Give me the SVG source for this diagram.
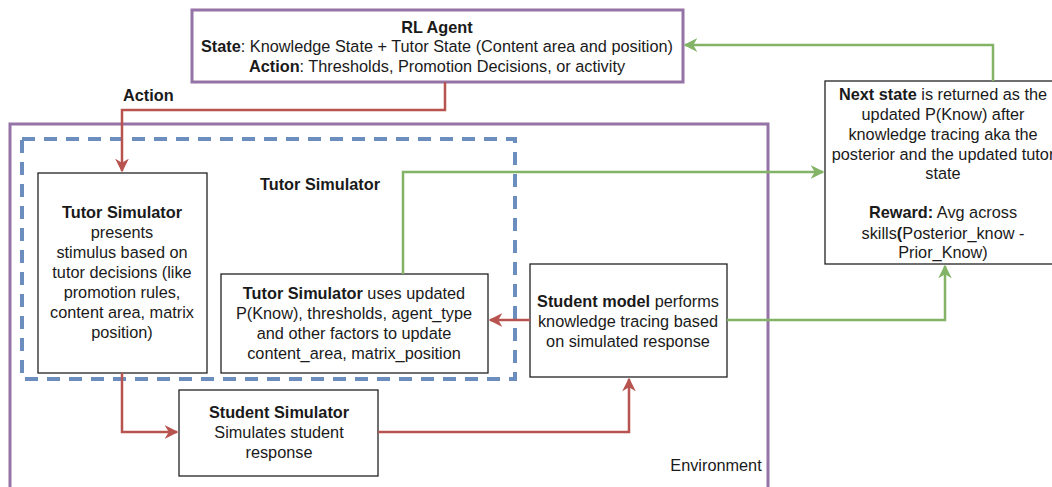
<svg xmlns="http://www.w3.org/2000/svg" width="1052" height="487" viewBox="0 0 1052 487">
<defs>
<style>
text{font-family:"Liberation Sans",Arial,sans-serif;font-size:16.3px;fill:#1a1a1a}
.c{text-anchor:middle}
.b{font-weight:bold}
.node{fill:#fff;stroke:#222;stroke-width:1.3}
.red{fill:none;stroke:#b85450;stroke-width:2.5}
.green{fill:none;stroke:#82b366;stroke-width:2.5}
</style>
<marker id="ar" viewBox="0 0 10 10" refX="9" refY="5" markerWidth="5.5" markerHeight="5.5" orient="auto" markerUnits="strokeWidth"><path d="M0,0 L10,5 L0,10 L3,5 Z" fill="#b85450"/></marker>
<marker id="ag" viewBox="0 0 10 10" refX="9" refY="5" markerWidth="5.5" markerHeight="5.5" orient="auto" markerUnits="strokeWidth"><path d="M0,0 L10,5 L0,10 L3,5 Z" fill="#82b366"/></marker>
</defs>
<rect width="1052" height="487" fill="#fff"/>
<g id="environment">
<rect x="10" y="124" width="758" height="370" fill="none" stroke="#9673a6" stroke-width="3"/>
<text class="c" x="716" y="471">Environment</text>
</g>
<g id="tutor-simulator-group">
<rect x="22" y="139" width="493" height="240" fill="none" stroke="#6c8ebf" stroke-width="4" stroke-dasharray="13 9"/>
<text class="c b" x="320" y="190">Tutor Simulator</text>
</g>
<g id="rl-agent">
<rect x="192" y="10" width="491" height="72" fill="#fff" stroke="#9673a6" stroke-width="3"/>
<text class="c b" x="437" y="33">RL Agent</text>
<text class="c" x="437" y="52"><tspan class="b">State</tspan>: Knowledge State + Tutor State (Content area and position)</text>
<text class="c" x="437" y="72"><tspan class="b">Action</tspan>: Thresholds, Promotion Decisions, or activity</text>
</g>
<g id="tutor-presents">
<rect class="node" x="38" y="173" width="169" height="200"/>
<text class="c" x="122" y="218"><tspan class="b">Tutor Simulator</tspan></text>
<text class="c" x="122" y="238">presents</text>
<text class="c" x="122" y="258">stimulus based on</text>
<text class="c" x="122" y="278">tutor decisions (like</text>
<text class="c" x="122" y="298">promotion rules,</text>
<text class="c" x="122" y="318">content area, matrix</text>
<text class="c" x="122" y="338">position)</text>
</g>
<g id="tutor-update">
<rect class="node" x="221" y="274" width="267" height="99"/>
<text class="c" x="354" y="299"><tspan class="b">Tutor Simulator</tspan> uses updated</text>
<text class="c" x="354" y="319">P(Know), thresholds, agent_type</text>
<text class="c" x="354" y="339">and other factors to update</text>
<text class="c" x="354" y="359">content_area, matrix_position</text>
</g>
<g id="student-model">
<rect class="node" x="530" y="264" width="197" height="113"/>
<text class="c" x="628" y="307"><tspan class="b">Student model</tspan> performs</text>
<text class="c" x="628" y="327">knowledge tracing based</text>
<text class="c" x="628" y="347">on simulated response</text>
</g>
<g id="student-simulator">
<rect class="node" x="179" y="390" width="199" height="86"/>
<text class="c b" x="279" y="418">Student Simulator</text>
<text class="c" x="279" y="438">Simulates student</text>
<text class="c" x="279" y="458">response</text>
</g>
<g id="next-state">
<rect class="node" x="825" y="81" width="240" height="183"/>
<text class="c" x="943" y="100"><tspan class="b">Next state</tspan> is returned as the</text>
<text class="c" x="943" y="120">updated P(Know) after</text>
<text class="c" x="943" y="140">knowledge tracing aka the</text>
<text class="c" x="943" y="160">posterior and the updated tutor</text>
<text class="c" x="943" y="179">state</text>
<text class="c" x="943" y="218"><tspan class="b">Reward:</tspan> Avg across</text>
<text class="c" x="943" y="239">skills<tspan class="b">(</tspan>Posterior_know -</text>
<text class="c" x="943" y="258">Prior_Know)</text>
</g>
<g id="connectors">
<path class="red" d="M445,82 V110 H122 V171" marker-end="url(#ar)"/>
<text class="b" x="123" y="101">Action</text>
<path class="red" d="M122,373 V432 H177" marker-end="url(#ar)"/>
<path class="red" d="M378,432 H629 V379" marker-end="url(#ar)"/>
<path class="red" d="M530,320 H490" marker-end="url(#ar)"/>
<path class="green" d="M403,274 V172 H823" marker-end="url(#ag)"/>
<path class="green" d="M727,320 H945 V266" marker-end="url(#ag)"/>
<path class="green" d="M993,81 V45 H685" marker-end="url(#ag)"/>
</g>
</svg>
